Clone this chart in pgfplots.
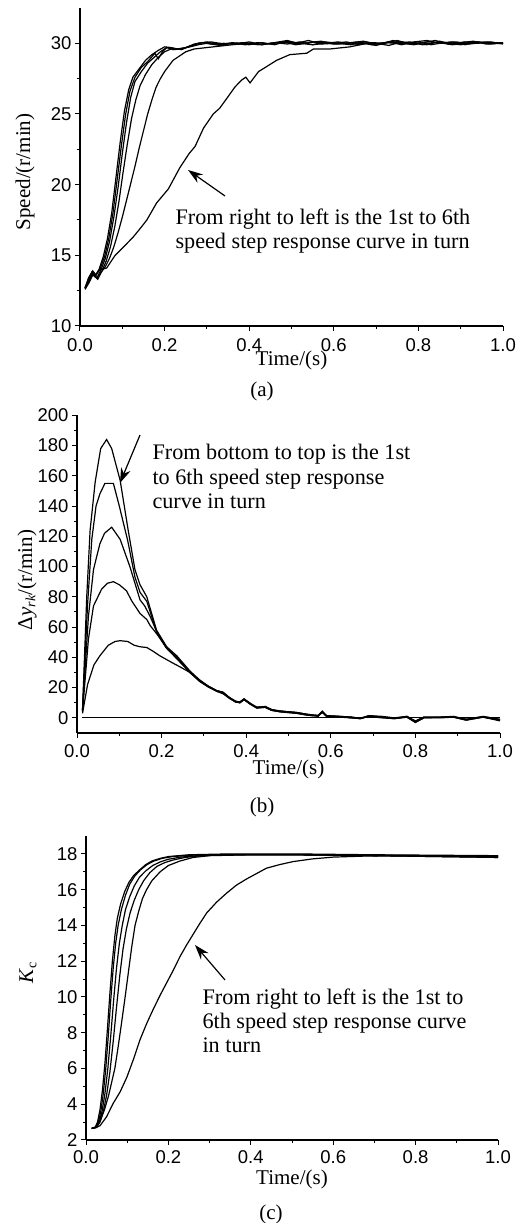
\documentclass[border=0pt]{standalone}
\usepackage{fontspec}
\setmainfont{Liberation Serif}
\newfontfamily\arialf{Liberation Sans}
\usepackage{pgfplots}
\pgfplotsset{compat=1.18}
\usetikzlibrary{arrows.meta}

\pgfplotsset{
  panel/.style={
    scale only axis, anchor=south west,
    axis x line*=bottom, axis y line*=left,
    axis line style={line width=1.1pt,-},
    tick align=outside, major tick length=5pt, minor tick length=3pt,
    every tick/.style={line width=1pt,black},
    xmin=0, xmax=1, xtick={0,0.2,0.4,0.6,0.8,1.0}, minor x tick num=1, minor y tick num=1,
    tick label style={font=\arialf\fontsize{18.5}{18.5}\selectfont},
    /pgf/number format/assume math mode=true,
    xticklabel style={/pgf/number format/fixed, /pgf/number format/fixed zerofill, /pgf/number format/precision=1},
    yticklabel style={/pgf/number format/fixed},
    label style={font=\fontsize{21}{21}\selectfont},
    xlabel={Time/(s)},
    cycle list={{black, solid, mark=none}},
    every axis plot post/.append style={line width=1.2pt, black, solid, mark=none},
  },
}
\newcommand\sub[1]{\raisebox{-0.35ex}{\fontsize{14}{14}\selectfont #1}}

\begin{document}
\begin{tikzpicture}[x=1pt,y=1pt]
\useasboundingbox (0,0) rectangle (530,1223);

% ---------------- (a) speed
\begin{axis}[panel, at={(80pt,897pt)}, width=423pt, height=318pt,
  ymin=10, ymax=32.5, ytick={10,15,20,25,30},
  xticklabel style={yshift=-4pt},
  xlabel style={at={(axis description cs:0.5,0)}, anchor=base, yshift=-40pt}]
\addplot coordinates {(0.012,12.7)(0.02,13.4)(0.028,13.8)(0.036,13.5)(0.045,14.0)(0.055,14.9)(0.065,16.2)(0.075,18.0)(0.085,20.5)(0.095,23.0)(0.105,25.2)(0.115,26.7)(0.125,27.6)(0.14,28.2)(0.155,28.8)(0.17,29.2)(0.185,29.5)(0.2,29.75)(0.215,29.7)(0.23,29.6)(0.25,29.7)(0.27,29.95)(0.29,30.05)(0.31,29.95)(0.34,30.0)(0.37,29.95)(0.4,30.1)(0.43,29.9)(0.46,30.05)(0.49,30.2)(0.52,29.95)(0.55,30.1)(0.58,30.0)(0.61,29.95)(0.64,30.05)(0.67,30.15)(0.7,29.95)(0.73,30.1)(0.76,29.9)(0.79,30.1)(0.82,30.2)(0.85,30.0)(0.88,30.1)(0.91,29.9)(0.94,30.1)(0.97,30.0)(1.0,30.05)};
\addplot coordinates {(0.012,12.7)(0.02,13.3)(0.03,13.9)(0.038,13.6)(0.047,14.0)(0.058,14.9)(0.068,16.2)(0.078,18.0)(0.088,20.4)(0.098,22.8)(0.108,25.0)(0.118,26.6)(0.13,27.6)(0.145,28.3)(0.16,28.7)(0.177,29.3)(0.185,28.9)(0.195,29.4)(0.205,29.7)(0.22,29.65)(0.24,29.55)(0.26,29.8)(0.28,30.0)(0.3,30.1)(0.33,29.9)(0.36,30.05)(0.39,29.9)(0.42,30.05)(0.45,29.95)(0.48,30.1)(0.51,30.0)(0.54,30.2)(0.57,29.95)(0.6,30.0)(0.63,30.1)(0.66,29.9)(0.69,30.05)(0.72,30.0)(0.75,30.2)(0.78,29.95)(0.81,30.05)(0.84,30.2)(0.87,29.95)(0.9,30.05)(0.93,30.15)(0.96,29.95)(1.0,30.0)};
\addplot coordinates {(0.012,12.7)(0.02,13.2)(0.03,13.8)(0.04,13.4)(0.05,14.0)(0.06,14.8)(0.07,16.0)(0.08,17.7)(0.09,19.8)(0.1,22.2)(0.11,24.4)(0.12,26.2)(0.13,27.3)(0.145,28.0)(0.16,28.6)(0.175,29.0)(0.19,29.4)(0.205,29.7)(0.22,29.55)(0.24,29.6)(0.26,29.8)(0.28,30.0)(0.31,30.1)(0.34,29.95)(0.37,30.0)(0.4,29.9)(0.43,30.05)(0.46,29.9)(0.49,30.15)(0.52,30.0)(0.55,29.9)(0.58,30.1)(0.61,30.0)(0.64,29.9)(0.67,30.1)(0.7,30.0)(0.73,29.85)(0.76,30.1)(0.79,30.0)(0.82,29.9)(0.85,30.15)(0.88,29.95)(0.91,30.1)(0.94,30.0)(0.97,30.1)(1.0,29.95)};
\addplot coordinates {(0.012,12.6)(0.022,13.2)(0.03,13.7)(0.042,13.3)(0.052,13.9)(0.062,14.6)(0.072,15.6)(0.082,17.0)(0.092,18.8)(0.102,20.9)(0.112,22.9)(0.122,24.7)(0.132,26.0)(0.142,27.0)(0.155,27.8)(0.17,28.5)(0.185,29.0)(0.2,29.4)(0.215,29.6)(0.235,29.6)(0.26,29.75)(0.28,29.9)(0.3,30.0)(0.33,29.85)(0.36,30.0)(0.39,30.05)(0.42,29.9)(0.45,30.0)(0.48,30.1)(0.51,29.9)(0.54,30.05)(0.57,30.15)(0.6,29.95)(0.63,30.0)(0.66,30.1)(0.69,29.9)(0.72,30.05)(0.75,30.0)(0.78,30.1)(0.81,29.9)(0.84,30.05)(0.87,30.0)(0.9,29.9)(0.93,30.05)(0.96,30.1)(1.0,30.0)};
\addplot coordinates {(0.012,12.6)(0.022,13.1)(0.03,13.6)(0.04,13.4)(0.05,13.8)(0.06,14.2)(0.07,14.8)(0.08,15.6)(0.09,16.6)(0.1,17.7)(0.11,18.9)(0.12,20.1)(0.13,21.3)(0.14,22.6)(0.15,23.8)(0.16,25.0)(0.17,26.0)(0.18,26.9)(0.19,27.5)(0.2,28.0)(0.21,28.4)(0.22,28.8)(0.235,29.1)(0.25,29.4)(0.27,29.6)(0.3,29.7)(0.33,29.8)(0.36,29.9)(0.4,30.0)(0.43,29.9)(0.46,30.05)(0.49,29.95)(0.52,30.1)(0.55,29.9)(0.58,30.0)(0.61,30.1)(0.64,29.95)(0.67,30.0)(0.7,29.85)(0.73,30.1)(0.76,30.0)(0.79,29.9)(0.82,30.1)(0.85,30.05)(0.88,29.9)(0.91,30.0)(0.94,30.1)(0.97,29.95)(1.0,30.05)};
\addplot coordinates {(0.012,12.7)(0.022,13.3)(0.028,13.8)(0.035,13.5)(0.043,13.9)(0.05,14.0)(0.063,14.1)(0.083,15.0)(0.1,15.5)(0.126,16.3)(0.145,17.0)(0.158,17.5)(0.181,18.7)(0.209,19.7)(0.236,21.2)(0.258,22.2)(0.272,22.7)(0.292,24.0)(0.315,25.0)(0.33,25.4)(0.347,26.1)(0.366,26.9)(0.382,27.4)(0.392,27.6)(0.402,27.2)(0.422,28.0)(0.441,28.35)(0.465,28.8)(0.496,29.2)(0.536,29.3)(0.552,29.6)(0.591,29.6)(0.638,29.75)(0.678,30.0)(0.71,29.95)(0.74,30.2)(0.77,30.0)(0.8,30.1)(0.83,29.9)(0.86,30.05)(0.89,30.1)(0.92,29.95)(0.95,30.05)(0.98,30.0)(1.0,30.05)};
\end{axis}

% ---------------- (b) delta y
\begin{axis}[panel, at={(77pt,490pt)}, width=423pt, height=317.7pt,
  ymin=-10, ymax=200, ytick={0,20,...,200},
  xticklabel style={yshift=-3pt},
  xlabel style={at={(axis description cs:0.5,0)}, anchor=base, yshift=-42pt}]
\addplot coordinates {(0.013,0)(1.0,0)};
\addplot coordinates {(0.013,3)(0.025,22)(0.04,35)(0.054,41)(0.074,48)(0.09,50.5)(0.102,51)(0.12,50.5)(0.135,48)(0.149,47)(0.165,46.5)(0.18,44)(0.196,41)(0.212,38.5)(0.228,36)(0.245,33.5)(0.267,30)(0.29,24)(0.31,20.5)(0.33,17.5)(0.345,16)(0.36,13)(0.375,10.5)(0.385,10)(0.395,12)(0.41,9)(0.425,6.5)(0.445,7)(0.46,5)(0.48,4)(0.5,3.5)(0.52,3)(0.54,2)(0.555,1.5)(0.57,1.5)(0.58,3.5)(0.59,1)(0.62,0.8)(0.65,0)(0.67,-0.5)(0.69,1)(0.72,0.5)(0.75,-0.5)(0.78,0.5)(0.8,-3)(0.82,0)(0.86,0.3)(0.89,0.5)(0.92,-1.5)(0.96,0.5)(1.0,-1.5)};
\addplot coordinates {(0.013,4)(0.027,52)(0.039,74)(0.058,85)(0.072,89)(0.086,90)(0.1,88)(0.117,84)(0.13,77)(0.149,69)(0.165,65)(0.173,61)(0.19,55)(0.212,46)(0.236,39)(0.267,30)(0.29,24.5)(0.31,21)(0.33,18)(0.345,16.5)(0.36,13.5)(0.375,10.5)(0.385,10.5)(0.395,12.5)(0.41,9.5)(0.425,7)(0.445,7.5)(0.46,5.5)(0.48,4.5)(0.5,4)(0.52,3.5)(0.54,2.5)(0.555,1.5)(0.57,1.5)(0.58,4)(0.59,1.5)(0.62,1)(0.65,0.5)(0.67,-0.5)(0.69,1.5)(0.72,0.5)(0.75,0)(0.78,0.5)(0.8,-2.5)(0.82,0.5)(0.86,0.5)(0.89,0.8)(0.92,-1)(0.96,0.8)(1.0,-1)};
\addplot coordinates {(0.013,5)(0.027,67)(0.039,98)(0.054,115)(0.065,122)(0.082,126)(0.102,118)(0.125,100)(0.149,78)(0.16,74)(0.173,67)(0.19,56)(0.212,46)(0.236,40)(0.267,30)(0.29,25)(0.31,21)(0.33,18)(0.345,17)(0.36,13.5)(0.375,11)(0.385,10)(0.395,12.5)(0.41,9)(0.425,7)(0.445,7)(0.46,5)(0.48,4.5)(0.5,4)(0.52,3.5)(0.54,2.5)(0.555,2)(0.57,1.5)(0.58,4.5)(0.59,1)(0.62,1)(0.65,0)(0.67,0)(0.69,1)(0.72,0.5)(0.75,-0.5)(0.78,1)(0.8,-2)(0.82,0.5)(0.86,0.5)(0.89,0.5)(0.92,-1)(0.96,0.5)(1.0,-1.5)};
\addplot coordinates {(0.013,5)(0.025,75)(0.035,118)(0.045,140)(0.054,148)(0.066,155)(0.086,155)(0.1,140)(0.12,117)(0.137,93)(0.149,83)(0.165,77)(0.188,57)(0.212,46)(0.236,40)(0.267,30)(0.29,24.5)(0.31,20.5)(0.33,18)(0.345,16.5)(0.36,13)(0.375,10.5)(0.385,10)(0.395,12)(0.41,9)(0.425,6.5)(0.445,7)(0.46,5)(0.48,4)(0.5,3.5)(0.52,3)(0.54,2)(0.555,1.5)(0.57,1)(0.58,4)(0.59,1)(0.62,0.5)(0.65,0)(0.67,-0.5)(0.69,1)(0.72,0)(0.75,-0.5)(0.78,0.5)(0.8,-3)(0.82,0)(0.86,0)(0.89,0.5)(0.92,-1.5)(0.96,0.5)(1.0,-2)};
\addplot coordinates {(0.013,5)(0.023,80)(0.031,124)(0.043,156)(0.056,178)(0.07,184)(0.082,178)(0.102,157)(0.121,124)(0.137,98)(0.149,88)(0.165,80)(0.188,58)(0.212,47)(0.236,41)(0.267,31)(0.29,25)(0.31,21)(0.33,18)(0.345,17)(0.36,13.5)(0.375,11)(0.385,10.5)(0.395,12.5)(0.41,9.5)(0.425,7)(0.445,7.5)(0.46,5.5)(0.48,4.5)(0.5,4)(0.52,3.5)(0.54,2.5)(0.555,2)(0.57,1.5)(0.58,4)(0.59,1.5)(0.62,1)(0.65,0.5)(0.67,-0.5)(0.69,1.5)(0.72,1)(0.75,0)(0.78,1)(0.8,-2.5)(0.82,0.5)(0.86,0.5)(0.89,1)(0.92,-1)(0.96,1)(1.0,-1)};
\end{axis}

% ---------------- (c) Kc
\begin{axis}[panel, at={(86pt,83pt)}, width=412pt, height=304pt,
  ymin=2, ymax=19, ytick={2,4,...,18},
  xticklabel style={yshift=-2pt},
  xlabel style={at={(axis description cs:0.5,0)}, anchor=base, yshift=-44pt}]
\addplot coordinates {(0.014,2.65)(0.022,2.7)(0.028,3.0)(0.034,3.7)(0.04,4.8)(0.046,6.3)(0.052,8.2)(0.058,10.2)(0.064,12.0)(0.07,13.4)(0.076,14.4)(0.084,15.2)(0.094,15.9)(0.104,16.4)(0.116,16.8)(0.13,17.1)(0.145,17.4)(0.16,17.6)(0.18,17.75)(0.2,17.85)(0.25,17.95)(0.35,18.0)(0.5,18.0)(0.7,17.95)(1.0,17.9)};
\addplot coordinates {(0.014,2.65)(0.024,2.7)(0.03,3.0)(0.036,3.6)(0.042,4.6)(0.048,6.0)(0.054,7.8)(0.06,9.8)(0.066,11.6)(0.072,13.0)(0.078,14.0)(0.086,14.9)(0.096,15.7)(0.106,16.3)(0.118,16.75)(0.132,17.1)(0.148,17.4)(0.165,17.6)(0.185,17.75)(0.21,17.85)(0.26,17.93)(0.35,17.97)(0.5,17.97)(0.7,17.93)(1.0,17.85)};
\addplot coordinates {(0.014,2.65)(0.025,2.7)(0.032,3.0)(0.039,3.6)(0.046,4.6)(0.053,6.0)(0.06,7.8)(0.067,9.8)(0.074,11.6)(0.081,13.0)(0.088,14.0)(0.096,14.9)(0.106,15.6)(0.117,16.2)(0.13,16.7)(0.145,17.05)(0.162,17.35)(0.18,17.55)(0.2,17.7)(0.23,17.82)(0.27,17.9)(0.35,17.95)(0.5,17.95)(0.7,17.9)(1.0,17.8)};
\addplot coordinates {(0.014,2.65)(0.026,2.72)(0.034,3.0)(0.042,3.6)(0.05,4.5)(0.058,5.8)(0.066,7.5)(0.074,9.4)(0.082,11.2)(0.09,12.7)(0.098,13.8)(0.107,14.7)(0.117,15.4)(0.128,16.0)(0.14,16.5)(0.155,16.95)(0.172,17.3)(0.19,17.5)(0.21,17.65)(0.24,17.8)(0.28,17.9)(0.35,17.95)(0.5,17.95)(0.7,17.9)(1.0,17.8)};
\addplot coordinates {(0.014,2.65)(0.025,2.75)(0.035,3.1)(0.045,3.7)(0.055,4.5)(0.062,5.2)(0.07,6.0)(0.078,7.2)(0.086,8.5)(0.095,10.0)(0.103,11.4)(0.111,12.8)(0.119,14.0)(0.128,14.8)(0.137,15.5)(0.147,16.0)(0.16,16.5)(0.18,17.0)(0.2,17.35)(0.228,17.6)(0.26,17.8)(0.3,17.9)(0.4,17.95)(0.5,17.95)(0.6,17.93)(0.8,17.9)(1.0,17.9)};
\addplot coordinates {(0.014,2.65)(0.025,2.7)(0.034,2.8)(0.05,3.3)(0.066,4.05)(0.083,4.7)(0.099,5.5)(0.115,6.5)(0.131,7.6)(0.147,8.5)(0.163,9.3)(0.18,10.1)(0.196,10.8)(0.212,11.5)(0.228,12.25)(0.244,12.9)(0.26,13.5)(0.276,14.1)(0.293,14.7)(0.317,15.3)(0.341,15.8)(0.365,16.25)(0.39,16.6)(0.414,16.9)(0.438,17.2)(0.47,17.4)(0.503,17.57)(0.55,17.72)(0.6,17.82)(0.68,17.88)(0.76,17.9)(0.85,17.88)(1.0,17.85)};
\end{axis}

% ---------------- labels and notes
\begin{scope}[font=\fontsize{21}{21}\selectfont]
\node[rotate=90] at (25,1051) {Speed/(r/min)};
\node[rotate=90] at (27,643) {Δ\textit{y}\sub{\textit{rk}}/(r/min)};
\node[rotate=90] at (28,250) {\textit{K}\sub{c}};
\node[anchor=base] at (262,826) {(a)};
\node[anchor=base] at (262,410) {(b)};
\node[anchor=base] at (271,4) {(c)};
\end{scope}
\begin{scope}[font=\fontsize{22.2}{22.2}\selectfont]
\node[anchor=base west] at (172,998) {From right to left is the 1st to 6th};
\node[anchor=base west] at (172,974) {speed step response curve in turn};
\draw[-{Stealth[length=15pt,width=10pt]}, line width=1.2pt] (225,1027) -- (188,1053);

\node[anchor=base west] at (149,763) {From bottom to top is the 1st};
\node[anchor=base west] at (149,738) {to 6th speed step response};
\node[anchor=base west] at (149,714) {curve in turn};
\draw[-{Stealth[length=15pt,width=10pt]}, line width=1.2pt] (140,788) -- (120,740);

\node[anchor=base west] at (199,218) {From right to left is the 1st to};
\node[anchor=base west] at (199,194) {6th speed step response curve};
\node[anchor=base west] at (199,170) {in turn};
\draw[-{Stealth[length=15pt,width=10pt]}, line width=1.2pt] (225,243) -- (195,278);
\end{scope}
\end{tikzpicture}
\end{document}
